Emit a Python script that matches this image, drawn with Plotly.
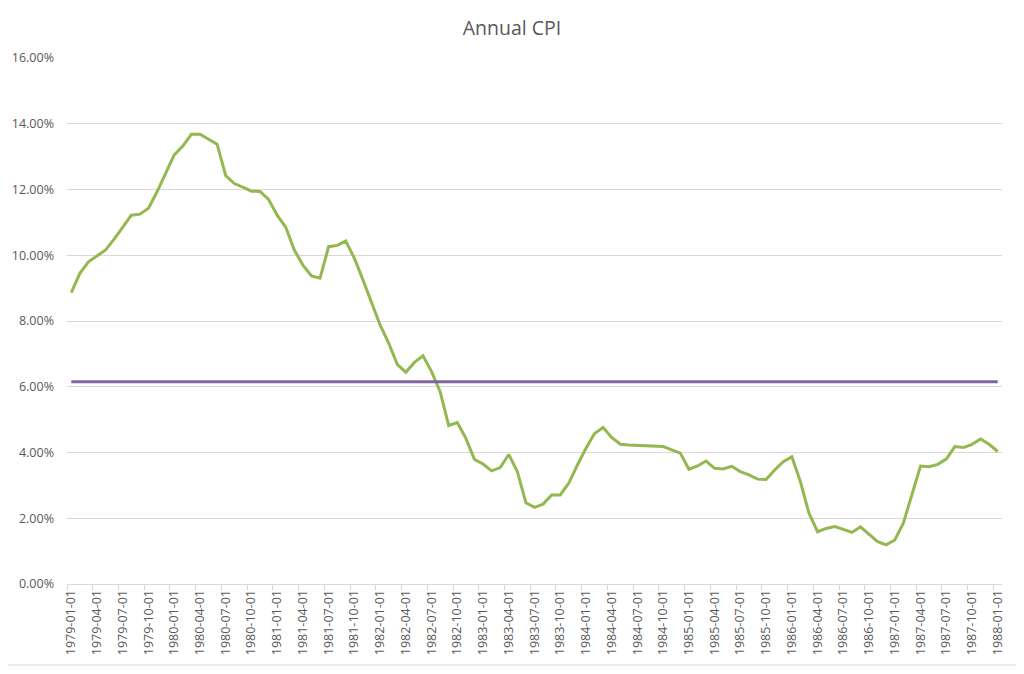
import plotly.graph_objects as go

# monthly dates 1979-01 .. 1988-01
years = list(range(1979, 1989))
dates = []
for y in years:
    for m in range(1, 13):
        if y == 1988 and m > 1:
            break
        dates.append("%d-%02d-01" % (y, m))

# annual CPI (%)
cpi = [8.86, 9.45, 9.80, 9.99, 10.16, 10.49, 10.84, 11.22, 11.25, 11.43, 11.93, 12.49,
       13.05, 13.32, 13.68, 13.68, 13.54, 13.38, 12.42, 12.18, 12.07, 11.95, 11.94, 11.70,
       11.22, 10.85, 10.16, 9.70, 9.37, 9.30, 10.26, 10.30, 10.43, 9.91, 9.25, 8.59,
       7.88, 7.33, 6.68, 6.44, 6.74, 6.94, 6.46, 5.85, 4.82, 4.91, 4.43, 3.79,
       3.65, 3.44, 3.54, 3.94, 3.42, 2.47, 2.33, 2.43, 2.71, 2.71, 3.07, 3.62,
       4.13, 4.58, 4.76, 4.46, 4.25, 4.23, 4.22, 4.21, 4.19, 4.18, 4.08, 3.98,
       3.49, 3.59, 3.74, 3.52, 3.50, 3.58, 3.42, 3.32, 3.19, 3.18, 3.47, 3.72,
       3.87, 3.11, 2.15, 1.59, 1.69, 1.75, 1.66, 1.57, 1.74, 1.52, 1.29, 1.19,
       1.34, 1.85, 2.72, 3.59, 3.57, 3.64, 3.80, 4.18, 4.15, 4.25, 4.41, 4.25,
       4.03]
avg_cpi = 6.15

# page body has an 8px margin, so everything is shifted by that
OFF = 8
W, H = 1024, 674
L, T = 67 - OFF, 58 - OFF
R = W - (1002 - OFF)
B = H - (584 - OFF)

fig = go.Figure()
fig.add_trace(go.Scatter(x=dates, y=[v / 100 for v in cpi], mode="lines",
                         line=dict(color="#92b84f", width=3), name="CPI"))
fig.add_trace(go.Scatter(x=dates, y=[avg_cpi / 100] * len(dates), mode="lines",
                         line=dict(color="#8064a2", width=3), name="Average"))

pw = W - L - R
ph = H - T - B
# light chart-area border like the spreadsheet export
fig.add_shape(type="rect", xref="paper", yref="paper",
              x0=(1 - OFF - L) / pw, x1=(1020 - OFF - L) / pw,
              y0=(H - B - (665 - OFF)) / ph, y1=(H - B - (1 - OFF)) / ph,
              line=dict(color="#d9d9d9", width=1), layer="below")

fig.update_layout(
    width=W, height=H,
    margin=dict(l=L, r=R, t=T, b=B, autoexpand=False),
    paper_bgcolor="white", plot_bgcolor="white",
    showlegend=False,
    font=dict(family="Open Sans", color="#595959", size=13),
    title=dict(text="Annual CPI", x=(512 - OFF) / W, xref="container", xanchor="center",
               y=1 - (28 - OFF) / H, yanchor="middle",
               font=dict(size=19.5, color="#595959")),
    xaxis=dict(type="category", dtick=3, tickson="boundaries", ticks="outside",
               ticklen=5, tickcolor="#d9d9d9", tickangle=-90, automargin=False,
               showgrid=False, showline=True, linecolor="#d9d9d9", linewidth=1,
               range=[-0.5, len(dates) - 0.5], tickfont=dict(size=12.5)),
    yaxis=dict(range=[0, 0.16], dtick=0.02, tickformat=".2%", automargin=False,
               showgrid=True, gridcolor="#d9d9d9", gridwidth=1,
               zeroline=False, showline=False, ticks="", ticklabelstandoff=12,
               tickfont=dict(size=12.5)),
)

fig.write_html("out.html")
